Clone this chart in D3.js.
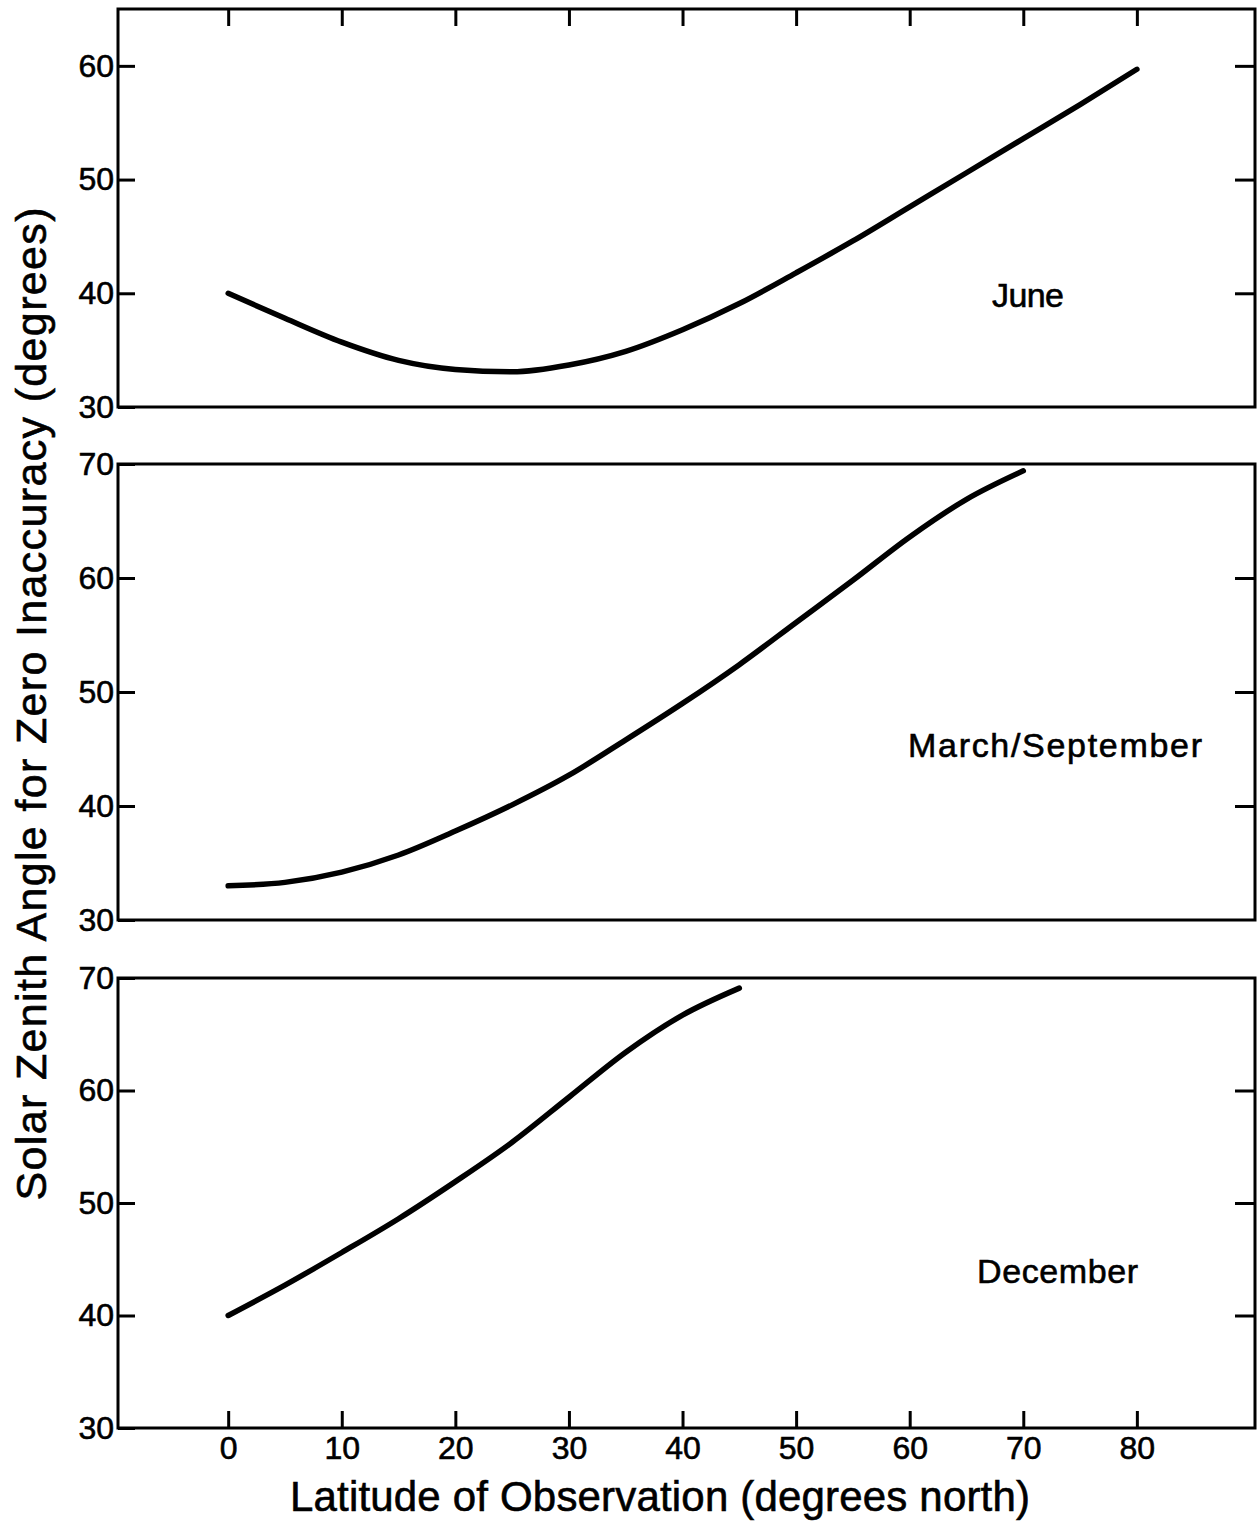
<!DOCTYPE html>
<html>
<head>
<meta charset="utf-8">
<script src="https://cdn.jsdelivr.net/npm/d3@7"></script>
<style>
  body { margin: 0; background: #fff; }
  svg text { font-family: "Liberation Sans", Arial, Helvetica, sans-serif; fill: #000; stroke: #000; stroke-width: 0.6px; }
</style>
</head>
<body>
<svg id="chart" width="1260" height="1532"></svg>
<script>
// values (latitude in degrees north, zenith angle in degrees)
const juneLat = [0, 5, 10, 15, 20, 25, 30, 35, 40, 45, 50, 55, 60, 65, 70, 75, 80];
const juneZenith = [40.0, 37.8, 35.7, 34.1, 33.3, 33.1, 33.7, 34.9, 36.8, 39.1, 41.8, 44.6, 47.6, 50.6, 53.6, 56.6, 59.7];

const equinoxLat = [0, 5, 10, 15, 20, 25, 30, 35, 40, 45, 50, 55, 60, 65, 70];
const equinoxZenith = [33.0, 33.3, 34.2, 35.7, 37.8, 40.1, 42.7, 45.8, 49.0, 52.4, 56.1, 59.8, 63.6, 66.9, 69.4];

const decemberLat = [0, 5, 10, 15, 20, 25, 30, 35, 40, 45];
const decemberZenith = [40.0, 42.7, 45.6, 48.6, 51.9, 55.4, 59.4, 63.4, 66.7, 69.1];

const panelNames = ["June", "March/September", "December"];
const yDomains = [[30, 65], [30, 70], [30, 70]];
const yTickLabels = [[30, 40, 50, 60], [30, 40, 50, 60, 70], [30, 40, 50, 60, 70]];
const rightTicks = [40, 50, 60];
const xTickLabels = [0, 10, 20, 30, 40, 50, 60, 70, 80];

const series = [
  d3.zip(juneLat, juneZenith),
  d3.zip(equinoxLat, equinoxZenith),
  d3.zip(decemberLat, decemberZenith)
];

const svg = d3.select("#chart");
const x = d3.scaleLinear().domain([-9.7, 90.4]).range([118, 1255]);
const [x0, x1] = x.range();

// pixel rows of the three stacked panels
const rows = [[9, 407], [464, 920], [978, 1428]];
// label placement inside each panel (start x, baseline y, width)
const labelPos = [[992, 307, 72], [908, 757, 294], [977, 1283, 161]];

const styleAxis = g => {
  g.select(".domain").remove();
  g.selectAll("line").attr("stroke", "#000").attr("stroke-width", 3);
  g.selectAll("text").attr("font-size", 32)
    .attr("font-family", '"Liberation Sans", Arial, Helvetica, sans-serif');
};

panelNames.forEach((name, i) => {
  const [top, bottom] = rows[i];
  const y = d3.scaleLinear().domain(yDomains[i]).range([bottom, top]);
  const g = svg.append("g");

  // left axis, ticks pointing inward
  g.append("g").attr("transform", `translate(${x0},0)`)
    .call(d3.axisLeft(y).tickValues(yTickLabels[i]).tickSize(-17).tickPadding(4))
    .call(styleAxis);

  // right side inward ticks only
  g.append("g").attr("transform", `translate(${x1},0)`)
    .call(d3.axisRight(y).tickValues(rightTicks).tickSize(-20).tickFormat(""))
    .call(styleAxis);

  if (i === 0) {
    g.append("g").attr("transform", `translate(0,${top})`)
      .call(d3.axisTop(x).tickValues(xTickLabels).tickSize(-17).tickFormat(""))
      .call(styleAxis);
  }
  if (i === panelNames.length - 1) {
    g.append("g").attr("transform", `translate(0,${bottom})`)
      .call(d3.axisBottom(x).tickValues(xTickLabels).tickSize(-17).tickPadding(8))
      .call(styleAxis);
  }

  // frame
  g.append("rect")
    .attr("x", x0).attr("y", top)
    .attr("width", x1 - x0).attr("height", bottom - top)
    .attr("fill", "none").attr("stroke", "#000").attr("stroke-width", 3);

  // curve
  g.append("path")
    .datum(series[i])
    .attr("fill", "none")
    .attr("stroke", "#000")
    .attr("stroke-width", 5.5)
    .attr("stroke-linecap", "round")
    .attr("d", d3.line().x(d => x(d[0])).y(d => y(d[1])).curve(d3.curveMonotoneX));

  g.append("text")
    .attr("x", labelPos[i][0]).attr("y", labelPos[i][1])
    .attr("font-size", 34)
    .attr("textLength", labelPos[i][2])
    .text(name);
});

// axis titles
svg.append("text")
  .attr("x", 660).attr("y", 1511)
  .attr("text-anchor", "middle")
  .attr("font-size", 42)
  .attr("textLength", 740)
  .text("Latitude of Observation (degrees north)");

svg.append("text")
  .attr("transform", "translate(46,704) rotate(-90)")
  .attr("text-anchor", "middle")
  .attr("font-size", 43)
  .attr("textLength", 993)
  .text("Solar Zenith Angle for Zero Inaccuracy (degrees)");
</script>
</body>
</html>
